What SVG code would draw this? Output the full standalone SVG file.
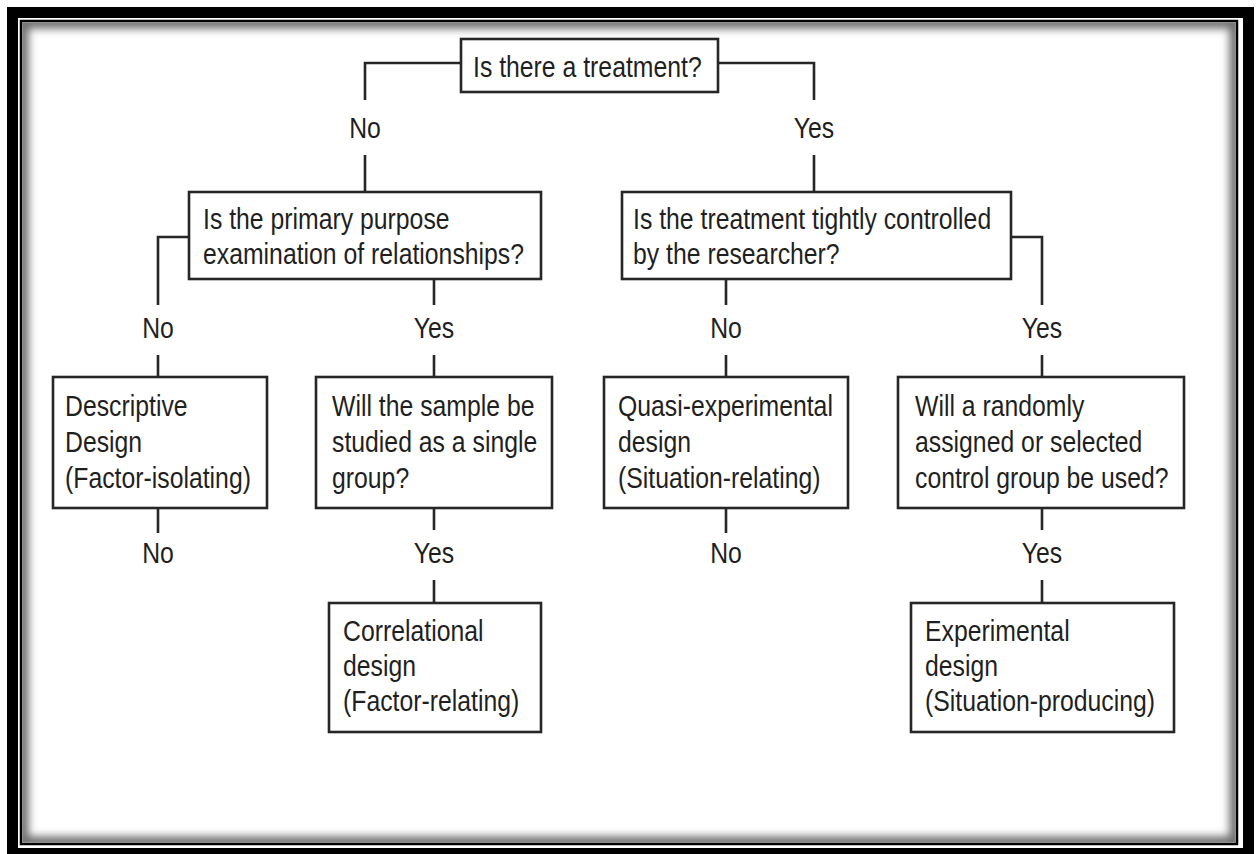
<svg xmlns="http://www.w3.org/2000/svg" width="1259" height="854" viewBox="0 0 1259 854">
  <style>
    .box { fill: #ffffff; stroke: #262626; stroke-width: 2.6; }
    .ln { fill: none; stroke: #262626; stroke-width: 2.6; }
    .t { font-family: "Liberation Sans", Arial, Helvetica, sans-serif; font-size: 29px; fill: #1f1f1f; }
    .c { text-anchor: middle; }
  </style>
  <defs>
    <clipPath id="inner"><rect x="22.5" y="22.5" width="1213" height="820"/></clipPath>
    <filter id="blur" x="-5%" y="-5%" width="110%" height="110%"><feGaussianBlur stdDeviation="4"/></filter>
  </defs>

  <rect x="0" y="0" width="1259" height="854" fill="#ffffff"/>

  <g id="frame">
    <g clip-path="url(#inner)">
      <rect x="22.5" y="22.5" width="1213" height="820" fill="none" stroke="#6a6a6a" stroke-width="12" filter="url(#blur)"/>
    </g>
    <rect x="21" y="21" width="1216" height="823" fill="none" stroke="#000" stroke-width="2.5"/>
    <rect x="12.5" y="12.5" width="1236" height="841" fill="none" stroke="#000" stroke-width="11"/>
  </g>

  <g id="connectors">
    <path class="ln" d="M461 63 H365 V100 M365 155 V192"/>
    <path class="ln" d="M718 63 H814 V100 M814 155 V192"/>
    <path class="ln" d="M189 237 H158 V305 M158 355 V377"/>
    <path class="ln" d="M434 279 V305 M434 355 V377"/>
    <path class="ln" d="M726 279 V305 M726 355 V377"/>
    <path class="ln" d="M1011 237 H1042 V305 M1042 355 V377"/>
    <path class="ln" d="M158 508 V533"/>
    <path class="ln" d="M434 508 V530 M434 580 V603"/>
    <path class="ln" d="M726 508 V533"/>
    <path class="ln" d="M1042 508 V530 M1042 580 V603"/>
  </g>

  <g id="labels">
    <text class="t c" transform="translate(365 138) scale(.855 1)">No</text>
    <text class="t c" transform="translate(814 138) scale(.855 1)">Yes</text>
    <text class="t c" transform="translate(158 338) scale(.855 1)">No</text>
    <text class="t c" transform="translate(434 338) scale(.855 1)">Yes</text>
    <text class="t c" transform="translate(726 338) scale(.855 1)">No</text>
    <text class="t c" transform="translate(1042 338) scale(.855 1)">Yes</text>
    <text class="t c" transform="translate(158 563) scale(.855 1)">No</text>
    <text class="t c" transform="translate(434 563) scale(.855 1)">Yes</text>
    <text class="t c" transform="translate(726 563) scale(.855 1)">No</text>
    <text class="t c" transform="translate(1042 563) scale(.855 1)">Yes</text>
  </g>

  <g id="q-treatment">
    <rect class="box" x="461" y="39" width="257" height="53"/>
    <text class="t" transform="translate(473 0) scale(.855 1)"><tspan x="0" y="77">Is there a treatment?</tspan></text>
  </g>

  <g id="q-purpose">
    <rect class="box" x="189" y="192" width="352" height="87"/>
    <text class="t" transform="translate(203 0) scale(.855 1)"><tspan x="0" y="229">Is the primary purpose</tspan><tspan x="0" y="264">examination of relationships?</tspan></text>
  </g>

  <g id="q-controlled">
    <rect class="box" x="622" y="192" width="389" height="87"/>
    <text class="t" transform="translate(633 0) scale(.855 1)"><tspan x="0" y="229">Is the treatment tightly controlled</tspan><tspan x="0" y="264">by the researcher?</tspan></text>
  </g>

  <g id="descriptive">
    <rect class="box" x="53" y="377" width="214" height="131"/>
    <text class="t" transform="translate(65 0) scale(.855 1)"><tspan x="0" y="416">Descriptive</tspan><tspan x="0" y="452">Design</tspan><tspan x="0" y="488">(Factor-isolating)</tspan></text>
  </g>

  <g id="q-sample">
    <rect class="box" x="316" y="377" width="236" height="131"/>
    <text class="t" transform="translate(332 0) scale(.855 1)"><tspan x="0" y="416">Will the sample be</tspan><tspan x="0" y="452">studied as a single</tspan><tspan x="0" y="488">group?</tspan></text>
  </g>

  <g id="quasi">
    <rect class="box" x="604" y="377" width="244" height="131"/>
    <text class="t" transform="translate(618 0) scale(.855 1)"><tspan x="0" y="416">Quasi-experimental</tspan><tspan x="0" y="452">design</tspan><tspan x="0" y="488">(Situation-relating)</tspan></text>
  </g>

  <g id="q-control">
    <rect class="box" x="898" y="377" width="286" height="131"/>
    <text class="t" transform="translate(915 0) scale(.855 1)"><tspan x="0" y="416">Will a randomly</tspan><tspan x="0" y="452">assigned or selected</tspan><tspan x="0" y="488">control group be used?</tspan></text>
  </g>

  <g id="correlational">
    <rect class="box" x="329" y="603" width="212" height="129"/>
    <text class="t" transform="translate(343 0) scale(.855 1)"><tspan x="0" y="641">Correlational</tspan><tspan x="0" y="676">design</tspan><tspan x="0" y="711">(Factor-relating)</tspan></text>
  </g>

  <g id="experimental">
    <rect class="box" x="911" y="603" width="263" height="129"/>
    <text class="t" transform="translate(925 0) scale(.855 1)"><tspan x="0" y="641">Experimental</tspan><tspan x="0" y="676">design</tspan><tspan x="0" y="711">(Situation-producing)</tspan></text>
  </g>
</svg>
